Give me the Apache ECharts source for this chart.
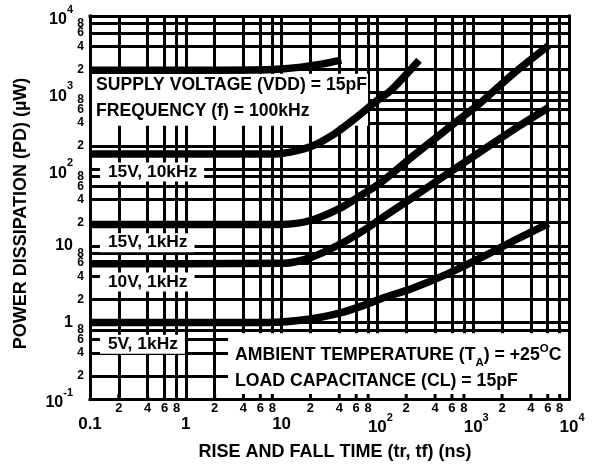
<!DOCTYPE html>
<html><head><meta charset="utf-8">
<script src="https://cdn.jsdelivr.net/npm/echarts@6/dist/echarts.min.js"></script>
<style>html,body{margin:0;padding:0;background:#fff}#c{width:595px;height:466px}</style>
</head><body><div id="c"></div>
<script>
// ---------- data (x: rise & fall time in ns, y: power dissipation in µW) ----------
const c15v100k_x = [0.1, 1, 5, 10, 16, 26, 42];
const c15v100k_y = [1960, 1960, 1980, 2040, 2150, 2350, 2650];
const c15v10k_x = [0.1, 1, 8, 10, 20, 35, 57, 101, 139, 272];
const c15v10k_y = [158, 158, 158, 160, 196, 285, 449, 800, 1075, 2650];
const c15v1k_x = [0.1, 1, 9.9, 20, 42, 67, 109, 241, 546, 1206, 2665, 6200];
const c15v1k_y = [19, 19, 19, 21.4, 31.6, 45.4, 67.2, 152, 342, 748, 1795, 4170];
const c10v1k_x = [0.1, 1, 10.6, 20, 42, 80, 109, 241, 546, 1206, 2665, 6200];
const c10v1k_y = [5.85, 5.85, 5.9, 7.0, 10.7, 17.3, 22.7, 44, 88, 171, 332, 644];
const c5v1k_x = [0.1, 1, 7.2, 20, 42, 80, 109, 241, 546, 1206, 2665, 6100];
const c5v1k_y = [1.0, 1.0, 1.0, 1.11, 1.34, 1.75, 2.04, 2.84, 4.33, 7.0, 11.7, 19.5];

const curveNames = ['15V, 10kHz', '15V, 1kHz', '10V, 1kHz', '5V, 1kHz'];
const curveNameAnchorX = [0.127, 0.127, 0.127, 0.127];
const curveNameAnchorY = [92, 11, 3.37, 0.52];

// grid lines (1, 2, 4, 6, 8 of each decade)
const xGridValues = [0.2,0.4,0.6,0.8,1,2,4,6,8,10,20,40,60,80,100,200,400,600,800,1000,2000,4000,6000,8000];
const yGridValues = [0.2,0.4,0.6,0.8,1,2,4,6,8,10,20,40,60,80,100,200,400,600,800,1000,2000,4000,6000,8000];

// tick labels
const xMinorTickValues = [0.2,0.4,0.6,0.8,2,4,6,8,20,40,60,80,200,400,600,800,2000,4000,6000,8000];
const xMinorTickLabels = ['2','4','6','8','2','4','6','8','2','4','6','8','2','4','6','8','2','4','6','8'];
const xDecadeTickValues = [0.1, 1, 10, 100, 1000, 10000];
const xDecadeTickLabels = ['0.1', '1', '10', '10^2', '10^3', '10^4'];
const yMinorTickValues = [0.2,0.4,0.6,0.8,2,4,6,8,20,40,60,80,200,400,600,800,2000,4000,6000,8000];
const yMinorTickLabels = ['2','4','6','8','2','4','6','8','2','4','6','8','2','4','6','8','2','4','6','8'];
const yDecadeTickValues = [0.1, 1, 10, 100, 1000, 10000];
const yDecadeTickLabels = ['10^-1', '1', '10', '10^2', '10^3', '10^4'];

// annotation boxes (data-space corners)
const box1 = [[0.1, 368], [79.8, 1762]];
const box2 = [[2.76, 0.1], [10000, 0.724]];

// ---------- chart ----------
const FONT = '"Liberation Sans", Arial, Helvetica, sans-serif';
const T = (size, extra) => Object.assign({fontFamily: FONT, fontWeight: 'bold', fontSize: size, color: '#000'}, extra || {});
const zip = (a, b) => a.map((v, i) => [v, b[i]]);
const XMIN = 0.1, XMAX = 10000, YMIN = 0.1, YMAX = 10000;

function powRich(s, baseKey) {
  const m = s.match(/^10\^(.+)$/);
  return m ? '{' + baseKey + '|10}{s|' + m[1] + '}' : '{p|' + s + '}';
}

const borderLine = {show: true, onZero: false, lineStyle: {color: '#000', width: 3, cap: 'square'}};
function axis(pos, extra) {
  return Object.assign({
    type: 'log', logBase: 10, position: pos,
    axisLine: borderLine, axisTick: {show: false}, axisLabel: {show: false},
    splitLine: {show: false}, minorTick: {show: false}, z: 5
  }, extra);
}

const curveLine = (name, x, y) => ({
  name, type: 'line', data: zip(x, y), symbol: 'none', showSymbol: false,
  smooth: 0.3, silent: true, z: 4,
  lineStyle: {color: '#000', width: 7.5, cap: 'butt', join: 'round'}
});

const solidItem = {color: '#000', opacity: 1};

const option = {
  animation: false,
  backgroundColor: '#fff',
  grid: {left: 90, right: 26, top: 16, bottom: 67, containLabel: false},
  xAxis: [
    axis('bottom', {min: XMIN, max: XMAX,
      name: 'RISE AND FALL TIME (tr, tf) (ns)', nameLocation: 'middle', nameGap: 44,
      nameTextStyle: T(18, {padding: [0, 0, 0, 11]})}),
    axis('top', {min: XMIN, max: XMAX})
  ],
  yAxis: [
    axis('left', {min: YMIN, max: YMAX,
      name: 'POWER DISSIPATION (PD) (\u00B5W)', nameLocation: 'middle', nameGap: 60, nameRotate: 90,
      nameTextStyle: T(18, {padding: [0, 12, 0, 0]})}),
    axis('right', {min: YMIN, max: YMAX})
  ],
  series: [
    { // grid lines
      type: 'line', data: [], silent: true,
      markLine: {
        silent: true, z: 1, symbol: ['none', 'none'], label: {show: false},
        lineStyle: {color: '#000', width: 3, type: 'solid', opacity: 1},
        emphasis: {disabled: true},
        data: xGridValues.map(v => ({xAxis: v})).concat(yGridValues.map(v => ({yAxis: v})))
      }
    },
    { // annotation boxes
      type: 'line', data: [], silent: true,
      markArea: {
        silent: true, z: 2,
        itemStyle: {color: '#fff', opacity: 1, borderWidth: 0},
        emphasis: {disabled: true},
        data: [
          [{xAxis: box1[0][0], yAxis: box1[0][1],
            label: {show: true, position: 'insideLeft', distance: 6, offset: [0, -2],
              formatter: 'SUPPLY VOLTAGE (VDD) = 15pF\nFREQUENCY (f) = 100kHz',
              ...T(17.6), lineHeight: 26}},
           {xAxis: box1[1][0], yAxis: box1[1][1]}],
          [{xAxis: box2[0][0], yAxis: box2[0][1],
            label: {show: true, position: 'insideLeft', distance: 7, offset: [0, 2.5],
              formatter: '{t|AMBIENT TEMPERATURE (T}{sub|A}{t|) = +25}{sup|O}{t|C}\n{t|LOAD CAPACITANCE (CL) = 15pF}',
              rich: {
                t: T(17.7, {lineHeight: 26}),
                sub: T(11.5, {verticalAlign: 'bottom'}),
                sup: T(11.5, {verticalAlign: 'top'})
              }}},
           {xAxis: box2[1][0], yAxis: box2[1][1]}]
        ]
      }
    },
    { // curve names
      type: 'scatter', silent: true, z: 3, symbolSize: 0, itemStyle: solidItem,
      data: curveNames.map((n, i) => ({name: n, value: [curveNameAnchorX[i], curveNameAnchorY[i]]})),
      label: {show: true, position: 'right', distance: 0, formatter: p => p.name,
        ...T(17.4), lineHeight: 19, backgroundColor: '#fff', padding: [0, 7, 0, 8]}
    },
    curveLine('15V, 100kHz', c15v100k_x, c15v100k_y),
    curveLine('15V, 10kHz', c15v10k_x, c15v10k_y),
    curveLine('15V, 1kHz', c15v1k_x, c15v1k_y),
    curveLine('10V, 1kHz', c10v1k_x, c10v1k_y),
    curveLine('5V, 1kHz', c5v1k_x, c5v1k_y),
    { // inside tick stubs on bottom border
      type: 'scatter', silent: true, z: 5, symbol: 'rect', symbolSize: [3, 5], symbolOffset: [0, -2.5],
      itemStyle: solidItem,
      data: xMinorTickValues.map(v => [v, YMIN])
    },
    { // x minor tick labels
      type: 'scatter', silent: true, z: 6, symbolSize: 0, itemStyle: solidItem,
      data: xMinorTickValues.map((v, i) => ({name: xMinorTickLabels[i], value: [v, YMIN]})),
      label: {show: true, position: 'bottom', distance: 3, formatter: p => p.name, ...T(13)}
    },
    { // x decade tick labels
      type: 'scatter', silent: true, z: 6, symbolSize: 0, itemStyle: solidItem,
      data: xDecadeTickValues.map((v, i) => ({name: xDecadeTickLabels[i], value: [v, YMIN]})),
      label: {show: true, position: 'bottom', distance: 13, formatter: p => powRich(p.name, 'bp'),
        rich: {
          p: T(17, {lineHeight: 24}),
          bp: T(17, {lineHeight: 24, verticalAlign: 'bottom', padding: [0, 0, 0, 6]}),
          s: T(11, {verticalAlign: 'top'})
        }}
    },
    { // y minor tick labels
      type: 'scatter', silent: true, z: 6, symbolSize: 0, itemStyle: solidItem,
      data: yMinorTickValues.map((v, i) => ({name: yMinorTickLabels[i], value: [XMIN, v]})),
      label: {show: true, position: 'left', distance: 6, formatter: p => p.name, ...T(12)}
    },
    { // y decade tick labels
      type: 'scatter', silent: true, z: 6, symbolSize: 0, itemStyle: solidItem,
      data: yDecadeTickValues.map((v, i) => ({name: yDecadeTickLabels[i], value: [XMIN, v]})),
      label: {show: true, position: 'left', distance: 17, formatter: p => powRich(p.name, 'b'),
        rich: {
          p: T(16, {lineHeight: 24}),
          b: T(16, {lineHeight: 24, verticalAlign: 'bottom'}),
          s: T(11, {verticalAlign: 'top'})
        }}
    }
  ]
};

const chart = echarts.init(document.getElementById('c'));
chart.setOption(option);
</script>
</body></html>
